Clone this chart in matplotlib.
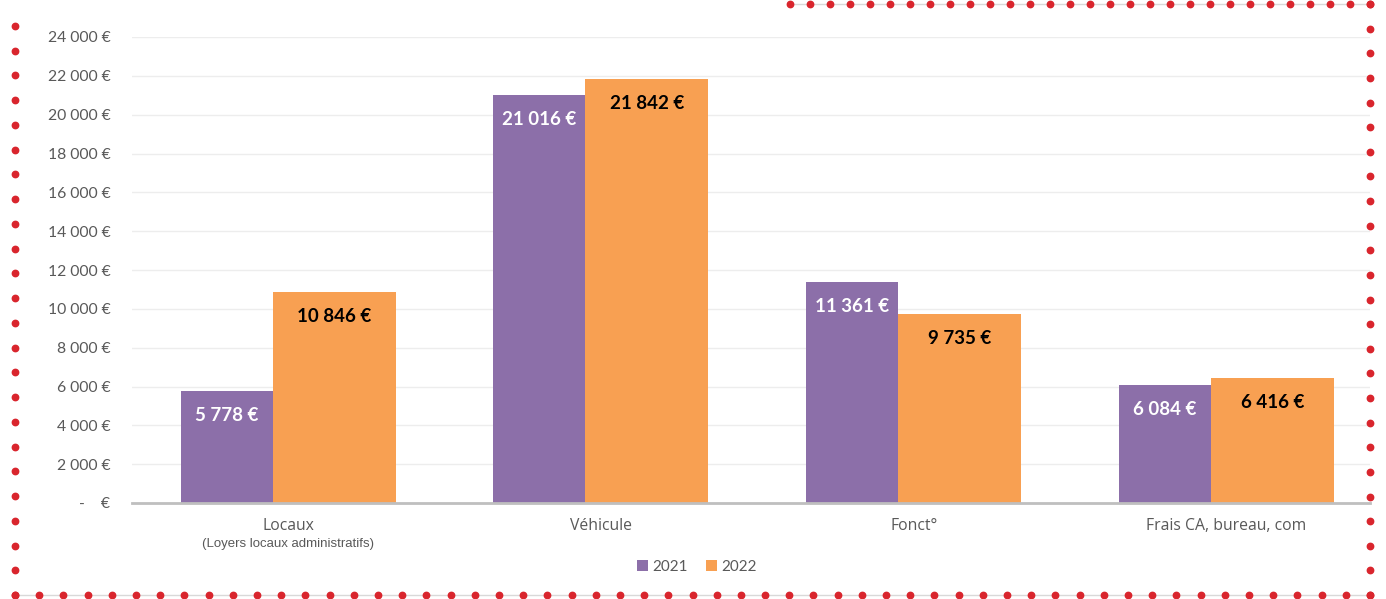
import numpy as np
import matplotlib.pyplot as plt
from matplotlib.lines import Line2D

categories = ["Locaux", "Véhicule", "Fonct°", "Frais CA, bureau, com"]
sous_titres = ["(Loyers locaux administratifs)", "", "", ""]
valeurs_2021 = [5778, 21016, 11361, 6084]
valeurs_2022 = [10846, 21842, 9735, 6416]
annees = ["2021", "2022"]
y_ticks = [0, 2000, 4000, 6000, 8000, 10000, 12000, 14000, 16000, 18000, 20000, 22000, 24000]

violet = "#8C6FA9"
orange = "#F8A052"
gris = "#595959"
rouge = "#D9252D"

plt.rcParams["font.family"] = ["Lato", "DejaVu Sans"]

W, H = 1386, 599
fig = plt.figure(figsize=(W / 100, H / 100), dpi=100)
ax = fig.add_axes([132 / W, 1 - 503 / H, (1370 - 132) / W, (503 - 37) / H])

x = np.arange(len(categories))

def euro(v):
    s = f"{v:,.0f}".replace(",", " ")
    return s + " €"

b1 = ax.bar(x - 0.344, valeurs_2021, width=0.294, align="edge", color=violet, label=annees[0], zorder=2)
b2 = ax.bar(x - 0.050, valeurs_2022, width=0.393, align="edge", color=orange, label=annees[1], zorder=2)

for rect, v in zip(b1, valeurs_2021):
    ax.annotate(euro(v), (rect.get_x() + rect.get_width() / 2, v), xytext=(0, -17.5),
                textcoords="offset points", ha="center", va="center",
                fontsize=13.5, fontweight="bold", color="white", zorder=3)
for rect, v in zip(b2, valeurs_2022):
    ax.annotate(euro(v), (rect.get_x() + rect.get_width() / 2, v), xytext=(0, -17.5),
                textcoords="offset points", ha="center", va="center",
                fontsize=13.5, fontweight="bold", color="black", zorder=3)

ax.set_xlim(-0.5, -0.5 + (1370 - 132) / 312.7)
ax.set_ylim(0, 24000)
ax.set_yticks(y_ticks)
ax.set_yticklabels([euro(v) if v else "-    €" for v in y_ticks], fontsize=11.3, color=gris)
ax.set_xticks(x)
ax.set_xticklabels(categories, fontsize=11.3, color=gris, family="Open Sans")
ax.tick_params(axis="both", length=0)
ax.tick_params(axis="x", pad=11)
ax.tick_params(axis="y", pad=15.5)

for i, st in enumerate(sous_titres):
    if st:
        ax.text(i, -0.088, st, transform=ax.get_xaxis_transform(), ha="center", va="center",
                fontsize=9.5, color=gris, family="Liberation Sans")

ax.grid(axis="y", color="#EDEDED", linewidth=1, zorder=0)
for s in ["top", "right", "left"]:
    ax.spines[s].set_visible(False)
ax.spines["bottom"].set_color("#BFBFBF")
ax.spines["bottom"].set_linewidth(2)

fig.legend(loc="center", bbox_to_anchor=(697 / W, 1 - 567 / H), ncol=2, frameon=False,
           fontsize=11, labelcolor=gris, handlelength=0.7, handleheight=0.7,
           handletextpad=0.3, columnspacing=1.2)

# bordure pointillée rouge
def pts(xs, ys, trait):
    xs = np.asarray(xs, float) / W
    ys = 1 - np.asarray(ys, float) / H
    if trait:
        fig.add_artist(Line2D(xs, ys, color="#D9D9D9", linewidth=1, transform=fig.transFigure))
    fig.add_artist(Line2D(xs, ys, linestyle="none", marker="o", markersize=4.6,
                          color=rouge, transform=fig.transFigure))

bas_x = np.linspace(15, 1370, 57)
pts(bas_x, np.full_like(bas_x, 595), True)
haut_x = np.linspace(790, 1370, 30)
pts(haut_x, np.full_like(haut_x, 4), True)
gauche_y = np.linspace(26, 595, 24)
pts(np.full_like(gauche_y, 15), gauche_y, False)
droite_y = np.linspace(4, 595, 25)
pts(np.full_like(droite_y, 1370), droite_y, False)

fig.savefig("out.png", dpi=100)
